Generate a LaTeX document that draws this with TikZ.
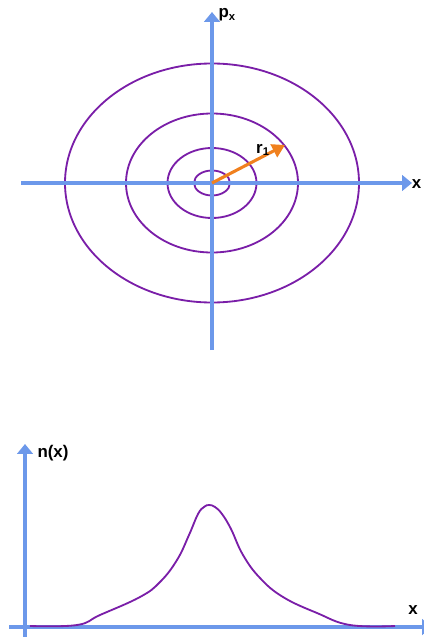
\documentclass[tikz,border=0pt]{standalone}
\usepackage{fontspec}
\setsansfont{Liberation Sans}
\usetikzlibrary{arrows.meta, positioning}
\definecolor{axisblue}{RGB}{108,152,234}
\definecolor{ringviolet}{RGB}{122,30,168}
\definecolor{radiusorange}{RGB}{240,128,30}

\begin{document}
\begin{tikzpicture}[
        x=0.025cm, y=-0.025cm,
        every node/.style={font=\sffamily\bfseries\fontsize{12}{14}\selectfont, inner sep=1pt},
        axis/.style={draw=axisblue, line width=2.8pt, -{Triangle[length=7pt, width=11pt]}},
        ring/.style={draw=ringviolet, line width=1.3pt},
        radius/.style={draw=radiusorange, line width=2.2pt, -{Triangle[length=9pt, width=10pt]}}
    ]
        \useasboundingbox (0,0) rectangle (423,637);

        % Phase space
        \coordinate (origin) at (212,183);
        \coordinate (xleft) at (21,183);
        \coordinate (xright) at (412,183);
        \coordinate (pbottom) at (212,350);
        \coordinate (ptop) at (212,12);
        \coordinate (rtip) at (285,145);

        \foreach \rx/\ry in {147/119.5, 86/69.5, 44.5/35, 18/12.5}
            \draw[ring] (origin) ellipse [x radius=\rx, y radius=\ry];

        \draw[axis] (xleft) -- (xright);
        \draw[axis] (pbottom) -- (ptop);
        \draw[radius] (origin) -- (rtip);

        \node[anchor=west] (plabel) at (217,15) {p\textsubscript{x}};
        \node[anchor=east] (xlabel) at (423,184) {x};
        \node (rlabel) at (263,150) {r\textsubscript{1}};

        % Density
        \coordinate (nbottom) at (25,650);
        \coordinate (ntop) at (25,444);
        \coordinate (xbleft) at (9,627);
        \coordinate (xbright) at (432,627);

        \draw[axis] (nbottom) -- (ntop);
        \draw[axis] (xbleft) -- (xbright);

        \draw[ring] plot[smooth, tension=0.7] coordinates {
            (30,626) (77,625) (100,615) (140,597) (160,582) (177,560)
            (189,535) (198,514) (204,507) (209,505) (215,507) (222,514)
            (231,529) (243,555) (260,578) (283,597) (317,613) (350,625) (395,626)};

        \node (nlabel) at (53,453) {n(x)};
        \node (xblabel) at (413,610) {x};
    \end{tikzpicture}
\end{document}
